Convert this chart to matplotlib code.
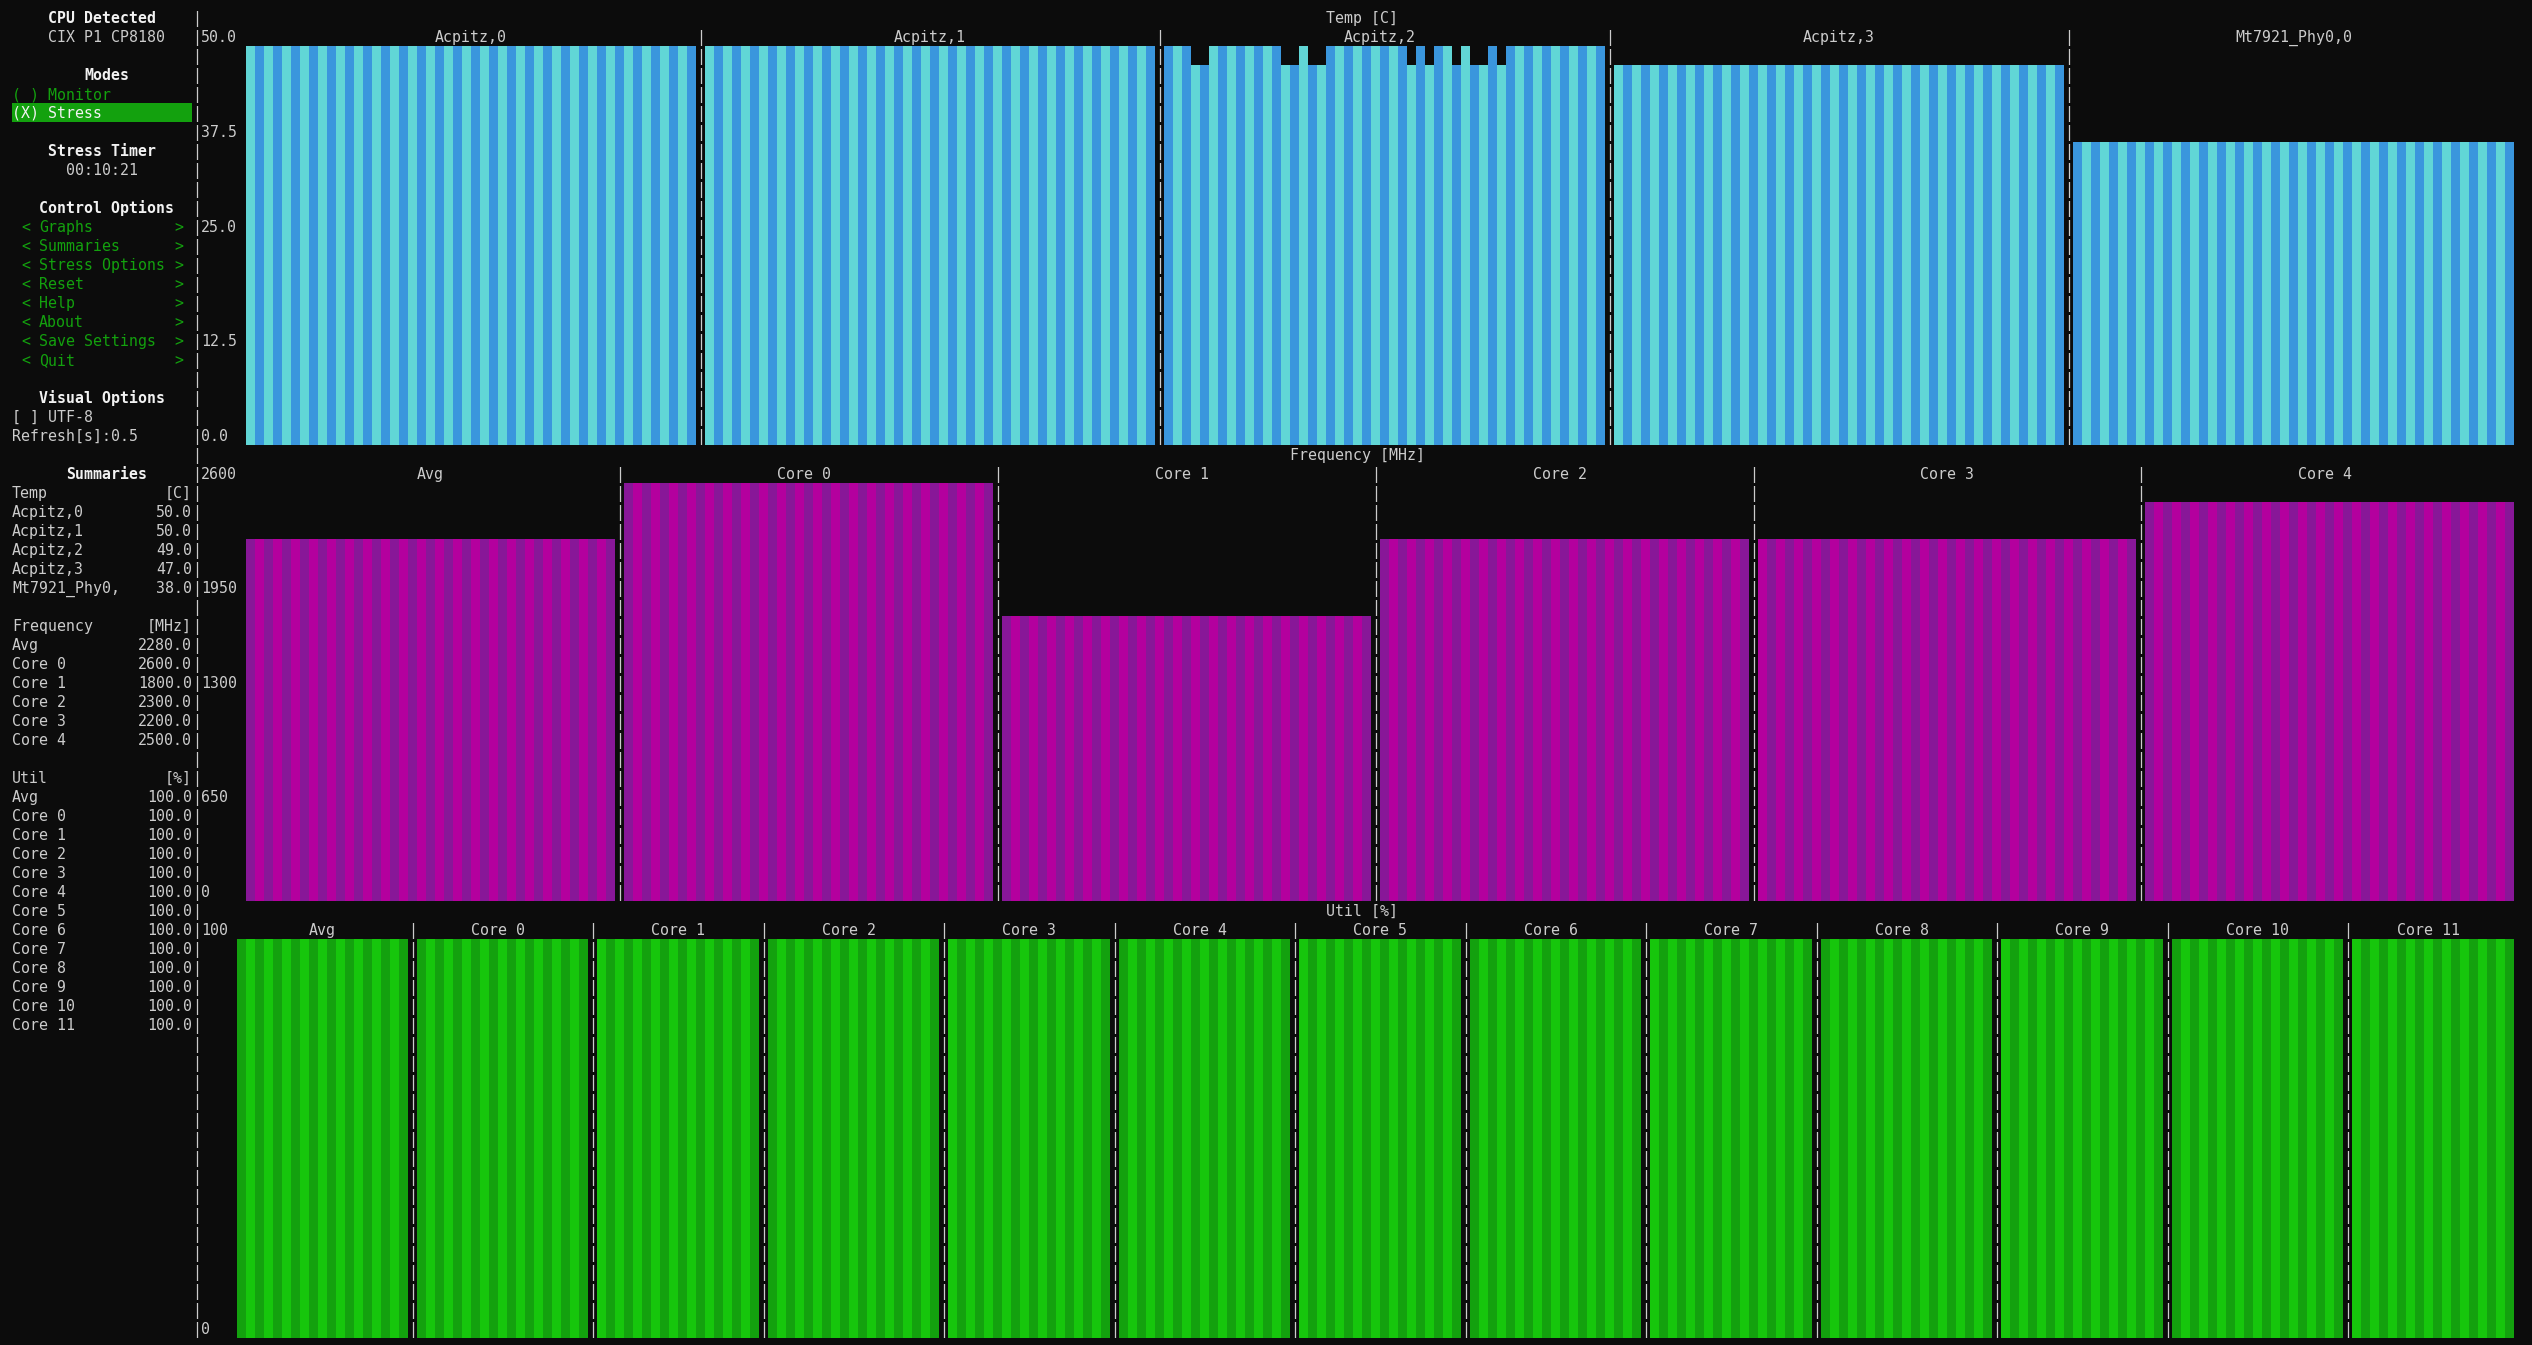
import matplotlib
matplotlib.use("Agg")
import matplotlib.pyplot as plt
from matplotlib.patches import Rectangle

# ---------------- values ----------------
cpu_name = "CIX P1 CP8180"
stress_timer = "00:10:21"
refresh_s = "0.5"

menu_items = ["Graphs", "Summaries", "Stress Options", "Reset", "Help",
              "About", "Save Settings", "Quit"]

# summary column (current readings)
temp_names = ["Acpitz,0", "Acpitz,1", "Acpitz,2", "Acpitz,3", "Mt7921_Phy0,0"]
temp_now = [50.0, 50.0, 49.0, 47.0, 38.0]
temp_ticks = ["50.0", "37.5", "25.0", "12.5", "0.0"]
temp_max = 50.0

# bar histories as drawn in the graphs (oldest left, newest right)
acpitz2_hist = [50, 50, 50, 47.6, 47.6, 50, 50, 50, 50, 50,
                50, 50, 50, 47.6, 47.6, 50, 47.6, 47.6, 50, 50,
                50, 50, 50, 50, 50, 50, 50, 47.6, 50, 47.6,
                50, 50, 47.6, 50, 47.6, 47.6, 50, 47.6, 50, 50,
                50, 50, 50, 50, 50, 50, 50, 50, 50]
temp_hist = [
    [50.0] * 50,
    [50.0] * 50,
    acpitz2_hist,
    [47.6] * 50,
    [38.0] * 49,
]

freq_names = ["Avg", "Core 0", "Core 1", "Core 2", "Core 3", "Core 4"]
freq_now = [2280.0, 2600.0, 1800.0, 2300.0, 2200.0, 2500.0]
freq_ticks = ["2600", "1950", "1300", "650", "0"]
freq_max = 2600.0
freq_hist = [
    [2250.0] * 41,
    [2600.0] * 41,
    [1775.0] * 41,
    [2250.0] * 41,
    [2250.0] * 42,
    [2480.0] * 41,
]

util_names = ["Avg", "Core 0", "Core 1", "Core 2", "Core 3", "Core 4", "Core 5",
              "Core 6", "Core 7", "Core 8", "Core 9", "Core 10", "Core 11"]
util_now = [100.0] * 13
util_ticks = ["100", "0"]
util_max = 100.0
util_hist = [[100.0] * 19 for _ in util_names]

# ---------------- terminal look ----------------
W, H = 2532, 1345
CW, RH = 9.0, 19.0        # character cell in pixels
X0, Y0 = 3.0, 8.0
FS = 10.76                # DejaVu Sans Mono -> 9 px advance at 100 dpi
MONO = "DejaVu Sans Mono"

BG = "#0c0c0c"
FG = "#cccccc"
WHITE = "#f2f2f2"
GREEN = "#13a10e"

temp_colors = ("#3a96dd", "#61d6d6")   # dark, light
freq_colors = ("#881798", "#b4009e")
util_colors = ("#13a10e", "#16c60c")

fig = plt.figure(figsize=(W / 100, H / 100), dpi=100, facecolor=BG)
ax0 = fig.add_axes([0, 0, 1, 1])
ax0.set_xlim(0, W)
ax0.set_ylim(H, 0)
ax0.axis("off")
ax0.set_facecolor(BG)


def put(row, col, s, color=FG, bold=False):
    ax0.text(X0 + col * CW, Y0 + row * RH + 15, s, color=color, family=MONO,
             size=FS, weight="bold" if bold else "normal",
             ha="left", va="baseline")


def center_col(text, c0, width):
    return c0 + (width - len(text)) // 2


def split_cols(start, end, n):
    # equal weights, one "|" column between panels (urwid style rounding)
    grow = (end - start + 1) - (n - 1)
    spans = []
    c = start
    left = n
    for i in range(n):
        w = int(grow / left + 0.5)
        spans.append((c, w))
        c += w + 1
        grow -= w
        left -= 1
    return spans


# ---------------- side bar ----------------
def side_center(row, text, bold=True, color=None):
    put(row, center_col(text, 1, 21), text, color or (WHITE if bold else FG), bold)


side_center(0, "CPU Detected")
side_center(1, cpu_name, bold=False)
side_center(3, "Modes")
put(4, 1, "( ) Monitor", GREEN)
ax0.add_patch(Rectangle((X0 + 1 * CW, Y0 + 5 * RH), 20 * CW, RH,
                        facecolor=GREEN, edgecolor="none"))
put(5, 1, "(X) Stress", WHITE)
side_center(7, "Stress Timer")
side_center(8, stress_timer, bold=False)
side_center(10, "Control Options")
for i, item in enumerate(menu_items):
    put(11 + i, 2, "<", GREEN)
    put(11 + i, 4, item, GREEN)
    put(11 + i, 19, ">", GREEN)
side_center(20, "Visual Options")
put(21, 1, "[ ] UTF-8")
put(22, 1, "Refresh[s]:" + refresh_s)

side_center(24, "Summaries")


def summary_block(row, head, unit, names, vals):
    put(row, 1, head)
    put(row, 21 - len(unit), unit)
    for k, (nm, v) in enumerate(zip(names, vals)):
        txt = "%.1f" % v
        put(row + 1 + k, 1, nm[:12])
        put(row + 1 + k, 21 - len(txt), txt)
    return row + len(names) + 2


r = summary_block(25, "Temp", "[C]", temp_names, temp_now)
r = summary_block(r, "Frequency", "[MHz]", freq_names, freq_now)
summary_block(r, "Util", "[%]", util_names, util_now)

for row in range(70):
    put(row, 21, "|")


# ---------------- graphs ----------------
def draw_graph(title, title_row, last_row, first_col, names, hists, ymax,
               ticks, tick_rows, colors):
    put(title_row, center_col(title, 22, 258), title)
    spans = split_cols(first_col, 278, len(names))
    top = Y0 + (title_row + 2) * RH
    bot = Y0 + (last_row + 1) * RH
    for (c, n), name, hist in zip(spans, names, hists):
        put(title_row + 1, center_col(name, c, n), name)
        left = X0 + c * CW
        ax = fig.add_axes([left / W, 1 - bot / H, n * CW / W, (bot - top) / H])
        ax.set_xlim(-0.5, n - 0.5)
        ax.set_ylim(0, ymax)
        ax.axis("off")
        vals = hist[-n:]
        cols = [colors[(n - 1 - i) % 2] for i in range(len(vals))]
        ax.bar(range(len(vals)), vals, width=1.0, color=cols,
               linewidth=0, antialiased=False)
    for (c, n) in spans[:-1]:
        for row in range(title_row + 1, last_row + 1):
            put(row, c + n, "|")
    for t, tr in zip(ticks, tick_rows):
        put(tr, 22, t)


draw_graph("Temp [C]", 0, 22, 27, temp_names, temp_hist, temp_max,
           temp_ticks, [1, 6, 11, 17, 22], temp_colors)
draw_graph("Frequency [MHz]", 23, 46, 27, freq_names, freq_hist, freq_max,
           freq_ticks, [24, 30, 35, 41, 46], freq_colors)
draw_graph("Util [%]", 47, 69, 26, util_names, util_hist, util_max,
           util_ticks, [48, 69], util_colors)

fig.savefig("out.png", dpi=100, facecolor=BG)
plt.close(fig)
